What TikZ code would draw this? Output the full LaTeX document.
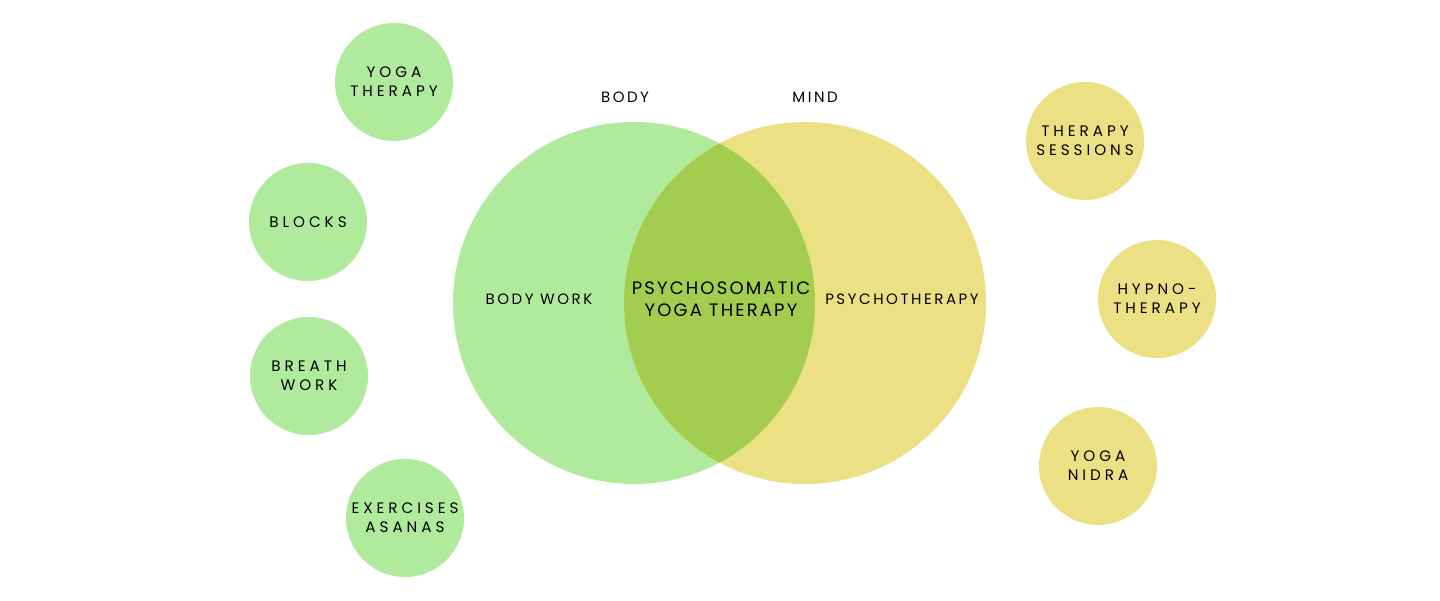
\documentclass[tikz,border=0pt]{standalone}
\usepackage{fontspec}
\newfontfamily\ffsmall[LetterSpace=26]{Poppins}
\newfontfamily\fflbl[LetterSpace=17]{Poppins}
\newfontfamily\ffmid[LetterSpace=12]{Poppins}
\definecolor{cgreen}{RGB}{175,234,157}
\definecolor{cyellow}{RGB}{235,224,131}
\definecolor{cboth}{RGB}{163,205,79}
\begin{document}
\begin{tikzpicture}[x=0.5pt,y=-0.5pt,
  small/.style={circle,inner sep=0pt,minimum size=59pt,align=center,font=\ffsmall\fontsize{7.6}{9.6}\selectfont},
  gsmall/.style={small,fill=cgreen},
  ysmall/.style={small,fill=cyellow},
  lbl/.style={align=center,font=\fflbl\fontsize{7.5}{9.5}\selectfont},
  center/.style={align=center,font=\ffmid\fontsize{9}{11}\selectfont}]
\useasboundingbox (0,0) rectangle (1440,600);
\fill[white] (0,0) rectangle (1440,600);
% big circles
\fill[cgreen] (634,303) circle[radius=181];
\fill[cyellow] (805,303) circle[radius=181];
\begin{scope}
\clip (634,303) circle[radius=181];
\fill[cboth] (805,303) circle[radius=181];
\end{scope}
\node[lbl] (body) at (625,97) {BODY};
\node[lbl] (mind) at (815,97) {MIND};
\node[lbl] (bw) at (539,299) {BODY WORK};
\node[lbl] (pt) at (902,299) {PSYCHOTHERAPY};
\node[center] (pyt) at (721,299) {PSYCHOSOMATIC\\YOGA THERAPY};
% small circles
\node[gsmall] (yt) at (394,82) {YOGA\\THERAPY};
\node[gsmall] (bl) at (308,222) {BLOCKS};
\node[gsmall] (br) at (309,376) {BREATH\\WORK};
\node[gsmall] (ex) at (405,518) {EXERCISES\\ASANAS};
\node[ysmall] (ts) at (1085,141) {THERAPY\\SESSIONS};
\node[ysmall] (hy) at (1157,299) {HYPNO-\\THERAPY};
\node[ysmall] (yn) at (1098,466) {YOGA\\NIDRA};
\end{tikzpicture}
\end{document}
